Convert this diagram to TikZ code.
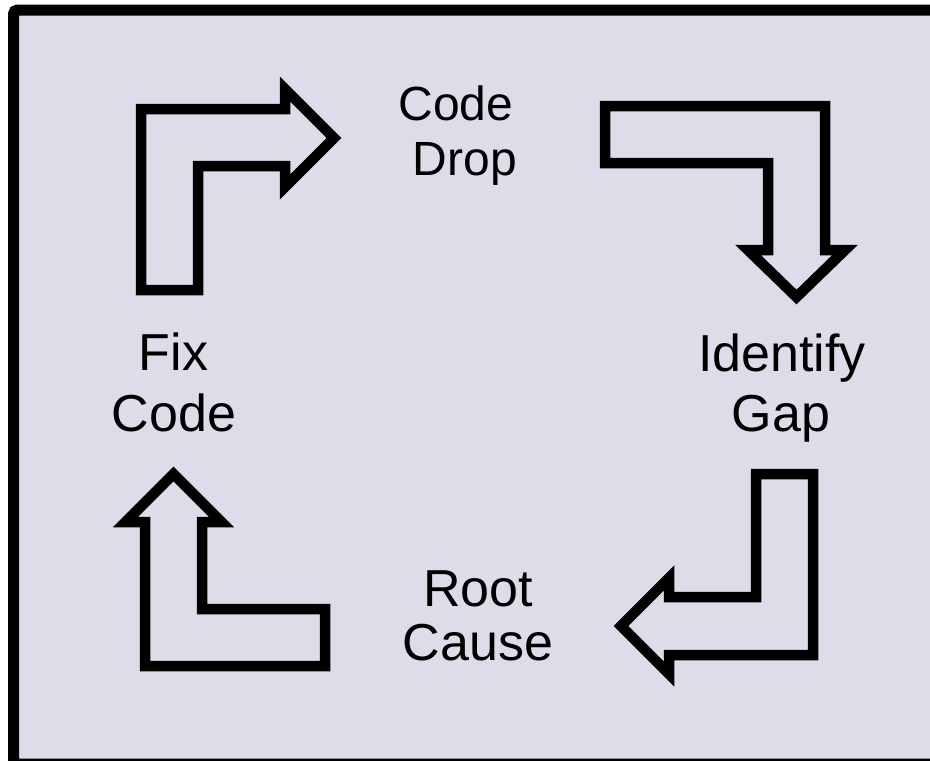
\documentclass[tikz,border=0pt]{standalone}
\usepackage{fontspec}
\setmainfont{Liberation Sans}
\definecolor{panel}{RGB}{221,221,234}
\begin{document}
\begin{tikzpicture}[x=1pt,y=-1pt,
  bentarrow/.style={draw=black,line width=10.5pt,line join=miter,miter limit=10},
  word/.style={anchor=base,inner sep=0pt,font=\fontsize{52}{57}\selectfont},
  smallword/.style={word,font=\fontsize{48}{55}\selectfont}]
\useasboundingbox (0,0) rectangle (930,761);
% panel with heavy border (right and bottom edges run off the page)
\path[fill=white] (0,0) rectangle (930,761);
\draw[line width=11pt,fill=panel,rounded corners=4pt] (13.5,10) rectangle (942,764);

% bent arrow: up, then right
\draw[bentarrow] (141,290) -- (141,109) -- (285,109) -- (285,89) -- (334,138)
  -- (285,187) -- (285,166) -- (198,166) -- (198,290) -- cycle;
% bent arrow: right, then down
\draw[bentarrow] (605,106) -- (825,106) -- (825,250) -- (845,250) -- (796.5,297)
  -- (748,250) -- (768,250) -- (768,163) -- (605,163) -- cycle;
% bent arrow: down, then left
\draw[bentarrow] (756,474) -- (813,474) -- (813,655) -- (669,655) -- (669,674)
  -- (621,626) -- (669,578) -- (669,597) -- (756,597) -- cycle;
% bent arrow: left, then up
\draw[bentarrow] (325,609) -- (325,666) -- (145,666) -- (145,522) -- (125.5,522)
  -- (173.5,474) -- (221.5,522) -- (202,522) -- (202,609) -- cycle;

% labels
\node[smallword] (codedropA) at (456,120) {Code};
\node[smallword] (codedropB) at (465,175) {Drop};
\node[word] (gapA) at (782,371.5) {Identify};
\node[word] (gapB) at (781,431) {Gap};
\node[word] (rootA) at (478,606.5) {Root};
\node[word] (rootB) at (478,660) {Cause};
\node[word] (fixA) at (173.5,370.5) {Fix};
\node[word] (fixB) at (174,431) {Code};
\end{tikzpicture}
\end{document}
